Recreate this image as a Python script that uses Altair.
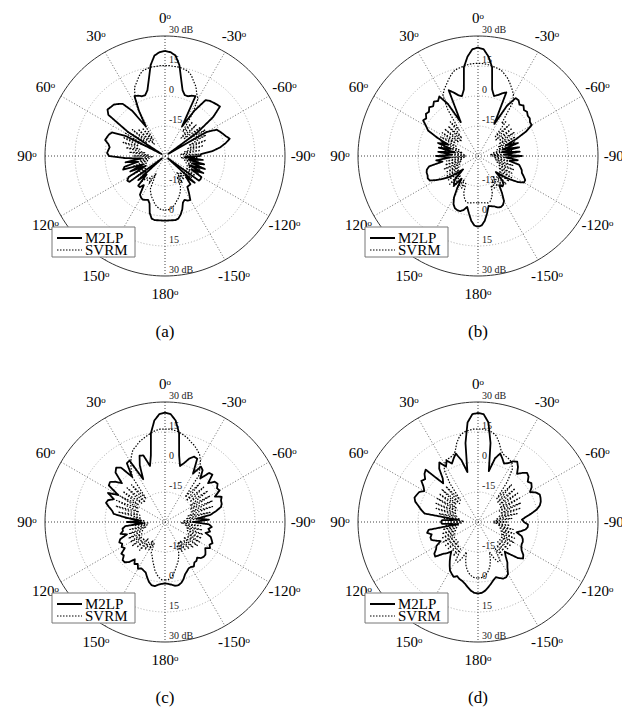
import altair as alt
import pandas as pd

# ---------------- data (dB versus angle, 3 degree steps) ----------------
HALF_ANG = list(range(0, 181, 3))  # 0..180 deg (left half, +) and 0..-180 (right half, -)

# panel (a)
A_M2LP_L = [22.5, 22, 20.5, 16, 9, 4, 2, 2, 3, 3.6,
            -4, -12.5, -2, 3.5, 5, 6.3, 6.5, 7, 5, -8,
            -28, -8, -1, 0, 0.5, 1, -1, -2, -1.5, -1,
            -2, -10, -18, -10, -16, -9, -8, -18, -11, -19,
            -9, -7.5, -8, -28, -12, -17, -10, -10, -12, -7,
            -6, -5.5, -6, -6.5, -5, -0.5, 2, 2.5, 2.3, 2.3, 2.3]
A_M2LP_R = [22.5, 22, 20.5, 16, 9, 4, 2, 2, 3, 3.6,
            -13, -3, 4.5, 5.5, 6, 6.5, 7, 1, -10, -28,
            -6, -1, 0, 1, 2, 3.5, 1, -2, -6, -12,
            -12.5, -20, -11, -18, -10, -16, -9, -17, -9, -15,
            -9, -8.8, -9, -28, -10, -15, -11, -11, -11, -8,
            -4.7, -5, -6, -5, -2, 0.3, 2, 2.5, 2.3, 2.3, 2.3]
A_SVRM_L = [15.2, 15.2, 15, 15, 14.5, 14, 12, 9.5, 7.5, 3,
            -3, -12, -20, -12, -22, -11, -20, -9, -19, -8,
            -7.2, -18, -7, -16, -8, -17, -10, -20, -12, -22,
            -14, -24, -15, -22, -14, -21, -13, -20, -13, -20,
            -12, -19, -12, -18, -13, -17, -13, -16, -15, -18,
            -14, -20, -12, -10, -8.5, -7.2, -5.5, -4.3, -3.5, -3, -3]
A_SVRM_R = [15.2, 15.2, 15, 15, 14.5, 14, 12.5, 10, 8, 5,
            3, -5, -15, -8, -18, -8, -17, -7, -16, -6,
            -15, -7, -17, -8, -18, -10, -20, -12, -22, -13,
            -20, -14, -22, -13, -20, -12, -19, -11, -18, -11,
            -18, -12, -19, -13, -18, -14, -19, -15, -20, -14,
            -18, -13, -11, -9.5, -8, -7, -5.5, -4.3, -3.5, -3, -3]

# panel (b)
B_M2LP_L = [24.2, 23.5, 20, 15, 4, 1, 2, 4, 6, -11,
            0, 5.5, 4, 5, 3.5, 4.5, 3, 3.5, 2, 2.7,
            0, -2, -8, -14, -9, -16, -10, -18, -10, -17,
            -9, -16, -9, -12, -5, -3.5, -3, -3, -2.5, -3,
            -6, -9, -12, -16, -20, -14, -12, -11, -16, -11,
            -6, -3, -1.5, -1, -1, -2, -4, -1, 2.5, 4.8, 5.3]
B_M2LP_R = [24.2, 23.5, 20, 15, 4, 1, 2, 3.5, 4.8, -12,
            -1, 4.5, 4.5, 3, 4, 2.5, 3, 2, 2, 1,
            1, -3, -9, -15, -9, -17, -9, -18, -9, -17,
            -8, -16, -10, -14, -9, -8, -7, -6.5, -5, -3.5,
            -3.5, -6, -10, -14, -18, -13, -11, -10.5, -12, -8,
            -4, -2.5, -2, -2.5, -3.5, -4, -4.5, -1, 2.5, 4.8, 5.3]
B_SVRM_L = [16.3, 16.3, 16, 15.5, 15, 14.5, 13, 11, 9, 7.3,
            5, -2, -14, -8, -18, -9, -19, -8.5, -18, -8.7,
            -17, -9, -18, -10, -20, -11, -22, -13, -23, -14,
            -24, -15, -23, -14, -22, -13, -21, -12, -20, -12,
            -19, -11, -18, -11, -18, -10, -17, -10, -16, -11,
            -16, -12, -15, -10, -8, -6.5, -6, -6.3, -6.5, -6.6, -6.6]
B_SVRM_R = [16.3, 16.3, 16, 15.5, 15, 14.5, 13, 11.5, 9.5, 7.5,
            5.5, 2, -10, -8, -17, -8, -18, -8, -17, -8.5,
            -18, -9, -19, -10, -20, -12, -22, -13, -24, -14,
            -23, -14, -22, -13, -21, -12, -20, -11, -19, -11,
            -18, -10, -17, -10, -17, -10, -16, -11, -17, -12,
            -16, -12, -14, -10, -8, -6.5, -6, -6.3, -6.5, -6.6, -6.6]

# panel (c)
C_M2LP_L = [24.7, 24, 21, 15, 4, -1, 5, 5.5, 1, -6,
            5.5, 5, -2, 5, 6.5, 5, -1, 2, 4, 3.5,
            -3, 2, -2, 0.5, 1, -1, -3, -4, -11, -18,
            -11, -19, -10, -8.5, -8.5, -7, -10, -6, -5, -6,
            -5, -6, -3, -3.5, -1.5, -1.5, -3, -6, -4, -5,
            -3, -4, -3.5, -3, -1, 1, 2.3, 2.5, 1.5, 1, 0.7]
C_M2LP_R = [24.7, 24, 21, 15, 4, -1, 1, 4, 5.8, 5.5,
            -2, 3, 2, -2, 3, 3.5, -1, 2, 2.5, 1,
            1.5, -2, 1, 0, -0.2, -1, -4, -7, -14, -8,
            -16, -8, -6.5, -8, -7, -9, -6, -5, -4, -5,
            -4, -6, -5, -4, -4, -4.5, -6, -5, -5, -3.5,
            -4, -4, -3, -2, 0, 1.5, 2.3, 2.3, 1.5, 1, 0.7]
C_SVRM_L = [16.5, 16.5, 16, 15, 14, 13, 12, 10.5, 9.5, 7,
            4.3, 1, -2, -15, -5, -16, -4.5, -15, -4, -14,
            -4, -15, -3.5, -16, -4, -17, -6, -18, -10, -20,
            -12, -22, -13, -21, -12, -20, -11, -18, -10, -17,
            -10, -16, -10, -17, -11, -18, -11, -17, -13, -19,
            -14, -18, -13, -12, -10, -8, -5.5, -3.5, -2, -1, -1]
C_SVRM_R = [16.5, 16.5, 16, 15.5, 14.5, 13.5, 12, 11, 9.5, 8,
            5.5, 2, -1, -14, -4, -15, -4, -14, -3.5, -15,
            -4, -16, -4, -16, -5, -18, -7, -19, -10, -21,
            -12, -22, -12, -20, -11, -19, -10, -18, -10, -17,
            -10, -17, -10, -18, -11, -17, -12, -18, -13, -18,
            -13, -17, -13, -11, -9, -7.5, -5.5, -3.5, -2, -1, -1]

# panel (d)
D_M2LP_L = [24.5, 24, 20, 10, -4.5, 2, 6, 4, 2, 4.5,
            2, 5.5, 3, -2, -4, 7, 6, 4, 5, 2.5,
            1, 3, 3.5, 4, 3, 0.8, -1, -3, -20, -12,
            -11.5, -12, -20, -5, -4, -6, -5, -5, -7, -9,
            -6, -5, -3, -2.5, -6, -8, -10, -8, -6, -4,
            -2, -1, 0, -1, 0, 0.5, 1.5, 3, 4.5, 5.5, 5.7]
D_M2LP_R = [24.5, 24, 20, 10, -4, 3, 6, 4, 2, 3,
            5, 6, 4, 1, 3, 4.7, 4, 2, 3, 2,
            0, 2.5, 3.8, 3.5, 3, 2, 0, -3, -6, -8,
            -7, -5, -5, -6, -8, -10, -7, -6, -5.5, -5.5,
            -5, -4, -2, -1, -3, -7, -10, -8, -5, -3,
            0, 1, 1, 0, -1, 0, 1.5, 3, 4.5, 5.5, 5.7]
D_SVRM_L = [16.5, 16.5, 16, 15.5, 14, 11, 7, 5.5, 5, 5,
            3.5, 1, -6, -16, -6, -17, -5.5, -16, -6, -17,
            -6.5, -18, -7, -18, -8, -19, -10, -21, -13, -23,
            -15, -22, -14, -20, -12, -19, -11, -18, -10, -17,
            -10, -16, -10, -16, -10, -16, -10, -15, -9, -14,
            -8, -7.5, -10, -14, -10, -7, -5, -3.5, -2.5, -2, -2]
D_SVRM_R = [16.5, 16.5, 16, 15.5, 14, 11, 7.5, 6, 5.5, 5,
            4, 1.5, -5, -15, -5, -16, -5, -16, -5.5, -17,
            -6, -18, -6.5, -18, -7.5, -19, -10, -21, -13, -22,
            -15, -22, -14, -20, -12, -19, -11, -18, -10, -17,
            -9.5, -16, -9.5, -16, -10, -16, -10, -15, -9, -14,
            -8, -7.5, -10, -14, -10, -7, -5, -3.5, -2.5, -2, -2]

SERIES = ["M2LP", "SVRM"]
PANELS = {
    "a": {"M2LP": (A_M2LP_L, A_M2LP_R), "SVRM": (A_SVRM_L, A_SVRM_R)},
    "b": {"M2LP": (B_M2LP_L, B_M2LP_R), "SVRM": (B_SVRM_L, B_SVRM_R)},
    "c": {"M2LP": (C_M2LP_L, C_M2LP_R), "SVRM": (C_SVRM_L, C_SVRM_R)},
    "d": {"M2LP": (D_M2LP_L, D_M2LP_R), "SVRM": (D_SVRM_L, D_SVRM_R)},
}

RING_DB = [-15, 0, 15]          # dotted grid rings
OUTER_DB = 30                   # outer ring
DB_MIN = -30                    # centre of the plot
SPOKE_ANG = [0, 30, 60, 90, 120, 150]
LABEL_ANG = [0, 30, 60, 90, 120, 150, 180, -150, -120, -90, -60, -30]
RAD_LABELS = ["-15", "0", "15", "30 dB"]
RAD_DB = [-15, 0, 15, 30]

FONT = "Liberation Serif"

# ---------------- helper tables ----------------
def curve_df(panel):
    rows = []
    for s in SERIES:
        left, right = PANELS[panel][s]
        k = 0
        for i in range(len(HALF_ANG) - 1, 0, -1):
            rows.append({"series": s, "theta": -HALF_ANG[i], "db": right[i], "ord": k})
            k += 1
        for i in range(len(HALF_ANG)):
            rows.append({"series": s, "theta": HALF_ANG[i], "db": left[i], "ord": k})
            k += 1
    return pd.DataFrame(rows)


ring_rows = []
for dbv in RING_DB + [OUTER_DB]:
    for a in range(0, 361, 2):
        ring_rows.append({"ring": dbv, "theta": a, "db": dbv, "outer": dbv == OUTER_DB})
ring_df = pd.DataFrame(ring_rows)

spoke_df = pd.DataFrame({"theta": SPOKE_ANG, "db": [OUTER_DB] * len(SPOKE_ANG),
                         "main": [a % 90 == 0 for a in SPOKE_ANG]})
anglab_df = pd.DataFrame({"theta": LABEL_ANG,
                          "label": [f"{a}\u1d52" for a in LABEL_ANG]})
radlab_df = pd.DataFrame({"db": RAD_DB * 2, "label": RAD_LABELS * 2,
                          "side": [1] * 4 + [-1] * 4})
legend_df = pd.DataFrame({"series": SERIES, "row": [-41, -47]})
ONE = alt.Data(values=[{"k": 1}])

R_EXPR = f"max(datum.db - ({DB_MIN}), 0)"
X_EXPR = f"-({R_EXPR})*sin(datum.theta*PI/180)"
Y_EXPR = f"({R_EXPR})*cos(datum.theta*PI/180)"

DASH = alt.StrokeDash("series:N", legend=None,
                      scale=alt.Scale(domain=SERIES, range=[[1, 0], [1.5, 1.5]]))
WIDTH = alt.StrokeWidth("series:N", legend=None,
                        scale=alt.Scale(domain=SERIES, range=[1.8, 1.2]))


def panel(p, caption, xmax, ymin):
    XS = alt.Scale(domain=[-78.5, xmax], nice=False, zero=False)
    YS = alt.Scale(domain=[ymin, 74], nice=False, zero=False)

    def X(f="px"):
        return alt.X(f"{f}:Q", scale=XS, axis=None)

    def Y(f="py"):
        return alt.Y(f"{f}:Q", scale=YS, axis=None)

    def xy(ch):
        return ch.transform_calculate(px=X_EXPR, py=Y_EXPR)

    rings = xy(alt.Chart(ring_df).transform_filter("!datum.outer").mark_line(
        color="#9a9a9a", strokeWidth=0.8, strokeDash=[1, 2])).encode(
        x=X(), y=Y(), detail="ring:N", order="theta:Q")
    outer = xy(alt.Chart(ring_df).transform_filter("datum.outer").mark_line(
        color="#333333", strokeWidth=1)).encode(x=X(), y=Y(), order="theta:Q")
    spokes = alt.Chart(spoke_df).transform_calculate(
        px=X_EXPR, py=Y_EXPR, qx=f"-({X_EXPR})", qy=f"-({Y_EXPR})"
    ).mark_rule(strokeWidth=0.8, strokeDash=[1, 2]).encode(
        x=X(), y=Y(), x2="qx:Q", y2="qy:Q",
        color=alt.condition("datum.main", alt.value("#111111"), alt.value("#444444")))
    radlab = alt.Chart(radlab_df).transform_calculate(
        px="0", py=f"datum.side*(datum.db - ({DB_MIN}))"
    ).mark_text(font=FONT, fontSize=10, align="left", baseline="bottom",
                dx=4, dy=-1, color="#222222").encode(x=X(), y=Y(), text="label:N")
    curves = xy(alt.Chart(curve_df(p)).mark_line(color="black", strokeJoin="round")).encode(
        x=X(), y=Y(), order="ord:Q", strokeDash=DASH, strokeWidth=WIDTH)
    anglab = alt.Chart(anglab_df).transform_calculate(
        px="-69*sin(datum.theta*PI/180)", py="69*cos(datum.theta*PI/180)"
    ).mark_text(font=FONT, fontSize=15, align="center", baseline="middle",
                color="black", clip=True).encode(x=X(), y=Y(), text="label:N")
    box = alt.Chart(ONE).mark_rect(fill="white", stroke="#777777", strokeWidth=1).encode(
        x=alt.X(datum=-56.5, scale=XS, axis=None), x2=alt.X2(datum=-15),
        y=alt.Y(datum=-35.5, scale=YS, axis=None), y2=alt.Y2(datum=-50.5))
    legl = alt.Chart(legend_df).transform_calculate(a="-54", b="-41.5").mark_rule(
        color="black").encode(x=X("a"), x2="b:Q", y=Y("row"),
                              strokeDash=DASH, strokeWidth=WIDTH)
    legt = alt.Chart(legend_df).transform_calculate(a="-40").mark_text(
        font=FONT, fontSize=15, align="left", baseline="middle", color="black").encode(
        x=X("a"), y=Y("row"), text="series:N")
    cap = alt.Chart(ONE).mark_text(font=FONT, fontSize=17, align="center",
                                   baseline="middle", color="black").encode(
        x=alt.X(datum=0, scale=XS, axis=None), y=alt.Y(datum=-88, scale=YS, axis=None),
        text=alt.value(caption))
    w = round((xmax + 78.5) * 2)
    h = round((74 - ymin) * 2)
    return alt.layer(rings, outer, spokes, radlab, curves, anglab,
                     box, legl, legt, cap).properties(width=w, height=h)


chart = alt.vconcat(
    alt.hconcat(panel("a", "(a)", 78, -96), panel("b", "(b)", 72, -96), spacing=0),
    alt.hconcat(panel("c", "(c)", 78, -93), panel("d", "(d)", 72, -93), spacing=0),
    spacing=26,
).properties(padding=0).configure(background="white", view=alt.ViewConfig(stroke=None))

chart.save("out.html", embed_options={"renderer": "svg", "actions": False})
